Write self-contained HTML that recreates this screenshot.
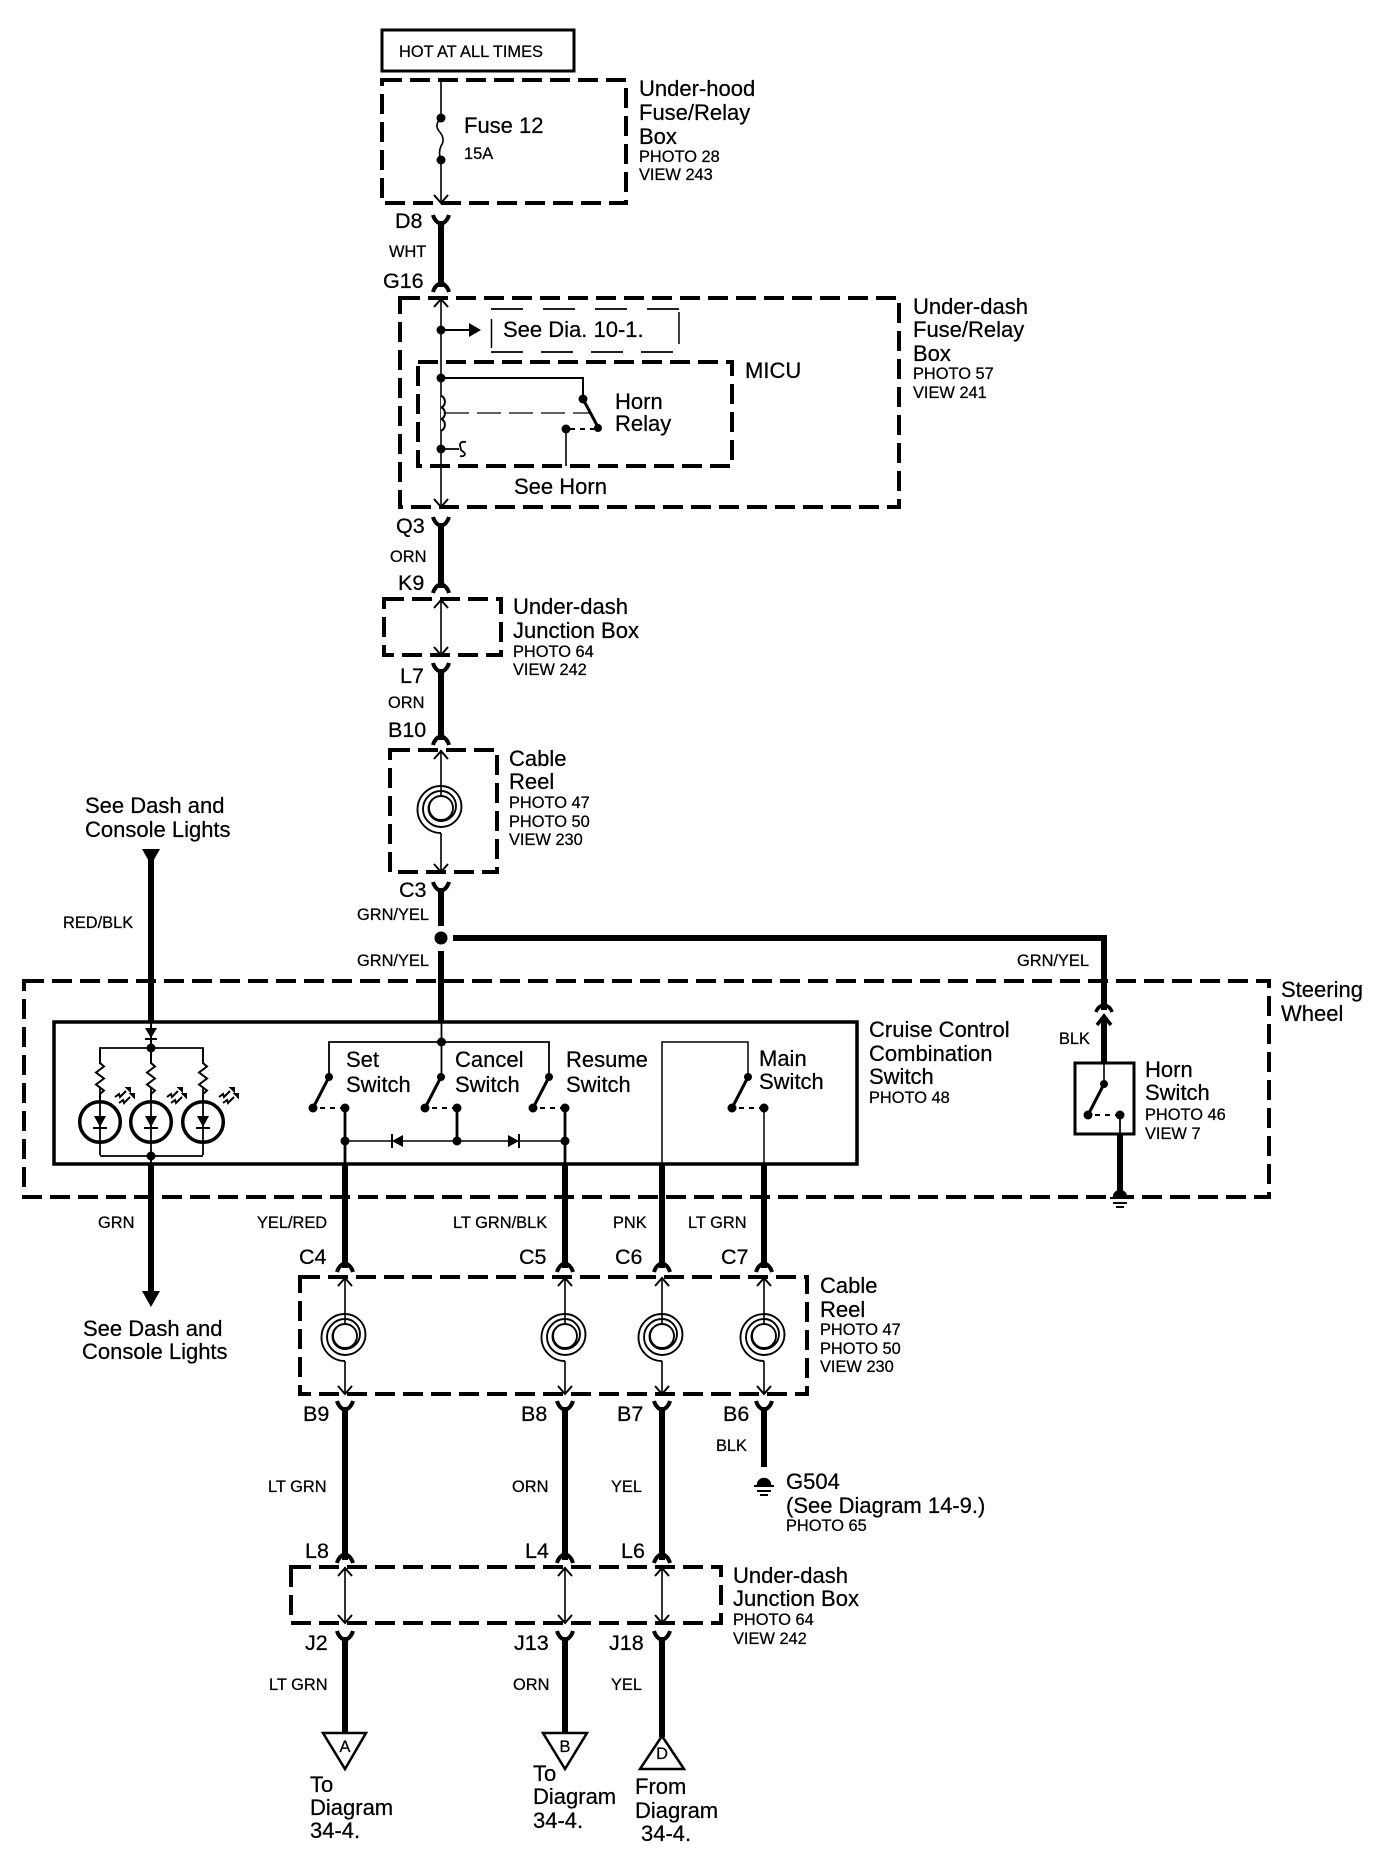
<!DOCTYPE html>
<html><head><meta charset="utf-8"><style>
html,body{margin:0;padding:0;background:#fff}
svg{display:block}
text{font-family:"Liberation Sans",sans-serif;fill:#000;stroke:#000;stroke-width:.25}
.m{font-size:22px}.s{font-size:16.4px}.c{font-size:21.5px}
.d{fill:none;stroke:#000;stroke-width:4;stroke-dasharray:20 8}
.th{stroke:#000;stroke-width:6;fill:none}
.md{stroke:#000;stroke-width:3;fill:none}
.tn{stroke:#000;stroke-width:1.6;fill:none}
</style></head><body>
<svg width="1392" height="1854" viewBox="0 0 1392 1854" xmlns="http://www.w3.org/2000/svg">
<defs>
<path id="yf" d="M-8 0Q-6 7 0 9Q6 7 8 0" fill="none" stroke="#000" stroke-width="4"/>
<path id="yi" d="M-8 9Q-6 2 0 0Q6 2 8 9" fill="none" stroke="#000" stroke-width="4"/>
<path id="au" d="M-7 8L0 0L7 8" fill="none" stroke="#000" stroke-width="2"/>
<path id="ad" d="M-7 -8L0 0L7 -8" fill="none" stroke="#000" stroke-width="2"/>
<circle id="dt" r="4.5" fill="#000"/>
<path id="reel" fill="none" stroke="#000" stroke-width="1.9" d="M0 25A23.500 23.500 0 0 1 0 -22A20.500 20.500 0 0 1 0 19A18 18 0 0 1 0 -17A15 15 0 0 1 0 13A12.500 12.500 0 0 1 0 -12A12 12 0 0 1 0 12A12 12 0 0 1 0 -12"/>
<g id="sw">
<path d="M0 0L-16 31" stroke="#000" stroke-width="3" fill="none"/>
<circle cx="0" cy="0" r="4" fill="#000"/>
<circle cx="-16" cy="31" r="4.500" fill="#000"/>
<path d="M-9 31H16" stroke="#000" stroke-width="2" stroke-dasharray="5 5" fill="none"/>
<circle cx="16" cy="31" r="4.500" fill="#000"/>
</g>
<g id="led">
<circle r="20.300" fill="none" stroke="#000" stroke-width="3.500"/>
<path d="M0 -34V33" stroke="#000" stroke-width="1.800" fill="none"/>
<path d="M-6 -6H6L0 5Z" fill="#000"/>
<path d="M-7 6H7" stroke="#000" stroke-width="2" fill="none"/>
</g>
<path id="res" d="M0 0V15l4 3.500-8 6 8 6-8 6 8 6-4 3.500V55" fill="none" stroke="#000" stroke-width="2"/>
<g id="lt" stroke="#000" stroke-width="2" fill="none">
<path d="M-9 -1l4-3 1 3 6-6"/><path d="M-5 5l4-3 1 3 6-6"/>
<path d="M3 -10l3 0 0 3z" fill="#000"/><path d="M7 -4l3 0 0 3z" fill="#000"/>
</g>
<g id="gnd">
<path d="M-6 0A6 6 0 0 1 6 0Z" fill="#000" stroke="#000" stroke-width="2.500"/>
<path d="M-10 1H10M-7 6H7M-4 10H4" stroke="#000" stroke-width="2" fill="none"/>
</g>
</defs>

<!-- HOT / under-hood -->
<rect x="382" y="30" width="192" height="41" fill="none" stroke="#000" stroke-width="3"/>
<text class="s" x="399" y="57">HOT AT ALL TIMES</text>
<rect class="d" x="382" y="80" width="244" height="123"/>
<path class="tn" d="M441 80V118q-7 7-2 13q7 8 2 15q-3 7 0 14V203"/>
<use href="#dt" x="441" y="118"/><use href="#dt" x="441" y="160"/>
<use href="#ad" x="441" y="203"/>
<text class="m" x="464" y="133">Fuse 12</text>
<text class="s" x="464" y="159">15A</text>
<text class="m" x="639" y="96">Under-hood</text>
<text class="m" x="639" y="120">Fuse/Relay</text>
<text class="m" x="639" y="144">Box</text>
<text class="s" x="639" y="162">PHOTO 28</text>
<text class="s" x="639" y="180">VIEW 243</text>

<use href="#yf" x="441" y="215"/><path class="th" d="M441 221V287"/><use href="#yi" x="441" y="283"/>
<text class="c" x="395" y="228">D8</text>
<text class="s" x="389" y="257">WHT</text>
<text class="c" x="383" y="288">G16</text>

<!-- Under-dash fuse box -->
<rect class="d" x="400" y="298" width="499" height="209"/>
<path class="tn" d="M441 298V507"/><use href="#au" x="441" y="299"/><use href="#ad" x="441" y="507"/>
<use href="#dt" x="441" y="330"/>
<path d="M441 330H470" stroke="#000" stroke-width="2"/><path d="M469 323L481 330L469 337Z" fill="#000"/>
<path d="M491.500 319V348M679 312V344" stroke="#000" stroke-width="1.500" fill="none"/>
<path d="M491 309H679" stroke="#000" stroke-width="1.800" stroke-dasharray="32 20" fill="none"/>
<path d="M491 352H679" stroke="#000" stroke-width="1.800" stroke-dasharray="32 18" fill="none"/>
<text class="m" x="503" y="337">See Dia. 10-1.</text>
<rect class="d" x="418" y="362" width="314" height="104"/>
<text class="m" x="745" y="378">MICU</text>
<use href="#dt" x="441" y="378"/>
<path d="M441 378H583V399" fill="none" stroke="#000" stroke-width="2"/>
<circle cx="583" cy="399" r="4.500" fill="#000"/>
<path d="M583 399L599 429" stroke="#000" stroke-width="3"/>
<circle cx="598" cy="428" r="4" fill="#000"/>
<circle cx="566" cy="429" r="4.500" fill="#000"/>
<path d="M570 429H596" stroke="#000" stroke-width="2" stroke-dasharray="5 5" fill="none"/>
<path class="tn" d="M566 429V466"/>
<path d="M441 396a4.500 5.800 0 0 1 0 11.500a4.500 5.800 0 0 1 0 11.500a4.500 5.800 0 0 1 0 11.500" fill="#fff" stroke="#000" stroke-width="2"/>
<path d="M445 413H592" stroke="#000" stroke-width="1.300" stroke-dasharray="24 8" fill="none"/>
<use href="#dt" x="441" y="449"/>
<path d="M441 449H459M466 442q-6-1-6 3l1 5q4 3 4 4q-1 3-5 2" stroke="#000" stroke-width="1.800" fill="none"/>
<text class="m" x="615" y="409">Horn</text>
<text class="m" x="615" y="431">Relay</text>
<text class="m" x="514" y="494">See Horn</text>
<text class="m" x="913" y="314">Under-dash</text>
<text class="m" x="913" y="337">Fuse/Relay</text>
<text class="m" x="913" y="361">Box</text>
<text class="s" x="913" y="379">PHOTO 57</text>
<text class="s" x="913" y="398">VIEW 241</text>

<use href="#yf" x="441" y="517"/><path class="th" d="M441 523V588"/><use href="#yi" x="441" y="584"/>
<text class="c" x="396" y="533">Q3</text>
<text class="s" x="390" y="562">ORN</text>
<text class="c" x="398" y="590">K9</text>

<!-- Junction -->
<rect class="d" x="384" y="599" width="117" height="56"/>
<path class="tn" d="M441 599V655"/><use href="#au" x="441" y="600"/><use href="#ad" x="441" y="655"/>
<text class="m" x="513" y="614">Under-dash</text>
<text class="m" x="513" y="638">Junction Box</text>
<text class="s" x="513" y="657">PHOTO 64</text>
<text class="s" x="513" y="675">VIEW 242</text>
<use href="#yf" x="441" y="663"/><path class="th" d="M441 669V740"/><use href="#yi" x="441" y="736"/>
<text class="c" x="400" y="683">L7</text>
<text class="s" x="388" y="708">ORN</text>
<text class="c" x="388" y="737">B10</text>

<!-- Cable reel 1 -->
<rect class="d" x="390" y="750" width="107" height="122"/>
<path class="tn" d="M441 750V796M441 833V872"/><use href="#au" x="441" y="751"/><use href="#ad" x="441" y="872"/>
<use href="#reel" x="441" y="808"/>
<text class="m" x="509" y="766">Cable</text>
<text class="m" x="509" y="789">Reel</text>
<text class="s" x="509" y="808">PHOTO 47</text>
<text class="s" x="509" y="827">PHOTO 50</text>
<text class="s" x="509" y="845">VIEW 230</text>
<use href="#yf" x="441" y="882"/><path class="th" d="M441 888V926"/>
<text class="c" x="399" y="897">C3</text>
<text class="s" x="357" y="920">GRN/YEL</text>
<circle cx="441" cy="938" r="6.500" fill="#000"/>
<path class="th" d="M453 938H1104V1010"/>
<path class="th" d="M441 951V1022"/>
<text class="s" x="357" y="966">GRN/YEL</text>
<text class="s" x="1017" y="966">GRN/YEL</text>

<!-- Steering wheel -->
<rect class="d" x="24" y="981" width="1245" height="216"/>
<text class="m" x="1281" y="997">Steering</text>
<text class="m" x="1281" y="1021">Wheel</text>

<!-- Left feed -->
<text class="m" x="85" y="813">See Dash and</text>
<text class="m" x="85" y="837">Console Lights</text>
<path d="M142 849H160L151 865Z" fill="#000"/>
<path class="th" d="M151 860V1022"/>
<text class="s" x="63" y="928">RED/BLK</text>

<!-- Combination switch -->
<rect x="54" y="1022" width="803" height="142" fill="none" stroke="#000" stroke-width="3.500"/>
<path d="M151 1022V1048" stroke="#000" stroke-width="2"/>
<path d="M145 1028H157L151 1038Z" fill="#000"/>
<path d="M145 1039H157" stroke="#000" stroke-width="2"/>
<use href="#dt" x="151" y="1048"/>
<path d="M100 1064V1048H203V1064" stroke="#000" stroke-width="1.800" fill="none"/>
<path d="M100 1156H203" stroke="#000" stroke-width="1.800" fill="none"/>
<use href="#res" x="100" y="1048"/><use href="#res" x="151" y="1048"/><use href="#res" x="203" y="1048"/>
<use href="#led" x="100" y="1122"/><use href="#led" x="151" y="1122"/><use href="#led" x="203" y="1122"/>
<use href="#lt" x="124" y="1098"/><use href="#lt" x="176" y="1098"/><use href="#lt" x="228" y="1098"/>
<use href="#dt" x="151" y="1156"/>
<path d="M151 1156V1164" stroke="#000" stroke-width="2"/>
<path class="th" d="M151 1164V1295"/>
<path d="M142 1291H160L151 1307Z" fill="#000"/>
<text class="s" x="98" y="1228">GRN</text>
<text class="m" x="83" y="1336">See Dash and</text>
<text class="m" x="82" y="1359">Console Lights</text>

<path d="M441.500 1022V1077M329 1077V1042H549V1077" stroke="#000" stroke-width="1.800" fill="none"/>
<use href="#dt" x="441.500" y="1042"/>
<use href="#sw" x="329" y="1077"/><use href="#sw" x="441" y="1077"/><use href="#sw" x="549" y="1077"/>
<path d="M345 1108V1164M457 1108V1141M565 1108V1164" stroke="#000" stroke-width="2.800" fill="none"/>
<path d="M345 1141H565" stroke="#000" stroke-width="1.600" fill="none"/>
<use href="#dt" x="345" y="1141"/><use href="#dt" x="457" y="1141"/><use href="#dt" x="565" y="1141"/>
<path d="M392 1141L403 1135V1147Z" fill="#000"/><path d="M392 1134V1148" stroke="#000" stroke-width="2"/>
<path d="M519 1141L508 1135V1147Z" fill="#000"/><path d="M519 1134V1148" stroke="#000" stroke-width="2"/>
<text class="m" x="346" y="1067">Set</text><text class="m" x="346" y="1092">Switch</text>
<text class="m" x="455" y="1067">Cancel</text><text class="m" x="455" y="1092">Switch</text>
<text class="m" x="566" y="1067">Resume</text><text class="m" x="566" y="1092">Switch</text>
<path d="M662 1164V1042H748V1077M764 1108V1164" stroke="#000" stroke-width="1.500" fill="none"/>
<use href="#sw" x="748" y="1077"/>
<text class="m" x="759" y="1066">Main</text><text class="m" x="759" y="1089">Switch</text>
<text class="m" x="869" y="1037">Cruise Control</text>
<text class="m" x="869" y="1061">Combination</text>
<text class="m" x="869" y="1084">Switch</text>
<text class="s" x="869" y="1103">PHOTO 48</text>

<!-- Horn switch -->
<path d="M1096 1012Q1098 1006 1104 1005Q1110 1006 1112 1012" fill="none" stroke="#000" stroke-width="3.500"/>
<path class="th" d="M1104 1018V1063"/>
<path d="M1097 1025L1104 1016L1111 1025" fill="none" stroke="#000" stroke-width="3.500"/>
<text class="s" x="1059" y="1044">BLK</text>
<rect x="1075" y="1063" width="59" height="71" fill="none" stroke="#000" stroke-width="3"/>
<path class="tn" d="M1104 1063V1085"/>
<use href="#sw" x="1104" y="1084"/>
<path d="M1120 1114V1134" stroke="#000" stroke-width="1.800"/>
<path class="th" d="M1120 1134V1196"/>
<use href="#gnd" x="1120" y="1197"/>
<text class="m" x="1145" y="1077">Horn</text>
<text class="m" x="1145" y="1100">Switch</text>
<text class="s" x="1145" y="1120">PHOTO 46</text>
<text class="s" x="1145" y="1139">VIEW 7</text>

<!-- Wires to reel 2 -->
<path class="th" d="M345 1164V1268M565 1164V1268M662 1164V1268M764 1164V1268"/>
<use href="#yi" x="345" y="1263"/><use href="#yi" x="565" y="1263"/><use href="#yi" x="662" y="1263"/><use href="#yi" x="764" y="1263"/>
<text class="s" x="257" y="1228">YEL/RED</text>
<text class="s" x="453" y="1228">LT GRN/BLK</text>
<text class="s" x="613" y="1228">PNK</text>
<text class="s" x="688" y="1228">LT GRN</text>
<text class="c" x="299" y="1264">C4</text>
<text class="c" x="519" y="1264">C5</text>
<text class="c" x="615" y="1264">C6</text>
<text class="c" x="721" y="1264">C7</text>

<rect class="d" x="300" y="1277" width="507" height="117"/>
<path class="tn" d="M345 1277V1324M345 1361V1394M565 1277V1324M565 1361V1394M662 1277V1324M662 1361V1394M764 1277V1324M764 1361V1394"/>
<use href="#au" x="345" y="1278"/><use href="#au" x="565" y="1278"/><use href="#au" x="662" y="1278"/><use href="#au" x="764" y="1278"/>
<use href="#ad" x="345" y="1394"/><use href="#ad" x="565" y="1394"/><use href="#ad" x="662" y="1394"/><use href="#ad" x="764" y="1394"/>
<use href="#reel" x="345" y="1336"/><use href="#reel" x="565" y="1336"/><use href="#reel" x="662" y="1336"/><use href="#reel" x="764" y="1336"/>
<text class="m" x="820" y="1293">Cable</text>
<text class="m" x="820" y="1317">Reel</text>
<text class="s" x="820" y="1335">PHOTO 47</text>
<text class="s" x="820" y="1354">PHOTO 50</text>
<text class="s" x="820" y="1372">VIEW 230</text>

<use href="#yf" x="345" y="1401"/><use href="#yf" x="565" y="1401"/><use href="#yf" x="662" y="1401"/><use href="#yf" x="764" y="1401"/>
<path class="th" d="M345 1407V1560M565 1407V1560M662 1407V1560M764 1407V1467"/>
<use href="#yi" x="345" y="1554"/><use href="#yi" x="565" y="1554"/><use href="#yi" x="662" y="1554"/>
<text class="c" x="303" y="1421">B9</text>
<text class="c" x="521" y="1421">B8</text>
<text class="c" x="617" y="1421">B7</text>
<text class="c" x="723" y="1421">B6</text>
<text class="s" x="716" y="1451">BLK</text>
<use href="#gnd" x="764" y="1485"/>
<text class="m" x="786" y="1489">G504</text>
<text class="m" x="786" y="1513">(See Diagram 14-9.)</text>
<text class="s" x="786" y="1531">PHOTO 65</text>
<text class="s" x="268" y="1492">LT GRN</text>
<text class="s" x="512" y="1492">ORN</text>
<text class="s" x="611" y="1492">YEL</text>
<text class="c" x="305" y="1558">L8</text>
<text class="c" x="525" y="1558">L4</text>
<text class="c" x="621" y="1558">L6</text>

<!-- Junction 2 -->
<rect class="d" x="291" y="1567" width="430" height="56"/>
<path class="tn" d="M345 1567V1623M565 1567V1623M662 1567V1623"/>
<use href="#au" x="345" y="1568"/><use href="#au" x="565" y="1568"/><use href="#au" x="662" y="1568"/>
<use href="#ad" x="345" y="1623"/><use href="#ad" x="565" y="1623"/><use href="#ad" x="662" y="1623"/>
<text class="m" x="733" y="1583">Under-dash</text>
<text class="m" x="733" y="1606">Junction Box</text>
<text class="s" x="733" y="1625">PHOTO 64</text>
<text class="s" x="733" y="1644">VIEW 242</text>

<use href="#yf" x="345" y="1631"/><use href="#yf" x="565" y="1631"/><use href="#yf" x="662" y="1631"/>
<path class="th" d="M345 1637V1733M565 1637V1733M662 1637V1737"/>
<text class="c" x="305" y="1650">J2</text>
<text class="c" x="514" y="1650">J13</text>
<text class="c" x="609" y="1650">J18</text>
<text class="s" x="269" y="1690">LT GRN</text>
<text class="s" x="513" y="1690">ORN</text>
<text class="s" x="611" y="1690">YEL</text>

<path d="M323 1733H366L345 1769Z" fill="#fff" stroke="#000" stroke-width="2.500"/>
<path d="M543 1733H587L565 1769Z" fill="#fff" stroke="#000" stroke-width="2.500"/>
<path d="M662 1736L684 1769H640Z" fill="#fff" stroke="#000" stroke-width="2.500"/>
<text class="s" x="345" y="1752" text-anchor="middle">A</text>
<text class="s" x="565" y="1752" text-anchor="middle">B</text>
<text class="s" x="662" y="1759" text-anchor="middle">D</text>
<text class="m" x="310" y="1792">To</text>
<text class="m" x="310" y="1815">Diagram</text>
<text class="m" x="310" y="1838">34-4.</text>
<text class="m" x="533" y="1781">To</text>
<text class="m" x="533" y="1804">Diagram</text>
<text class="m" x="533" y="1828">34-4.</text>
<text class="m" x="635" y="1794">From</text>
<text class="m" x="635" y="1818">Diagram</text>
<text class="m" x="641" y="1841">34-4.</text>
</svg>
</body></html>
